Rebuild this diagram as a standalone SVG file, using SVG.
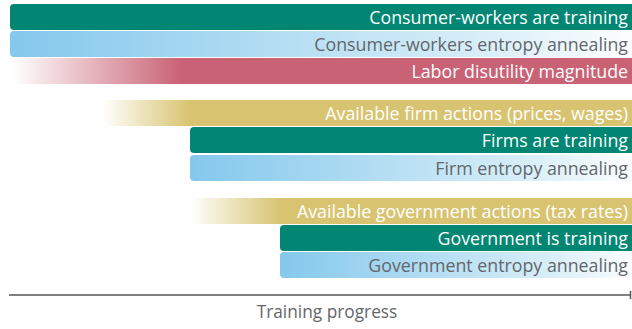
<svg xmlns="http://www.w3.org/2000/svg" width="632" height="329" viewBox="0 0 632 329">
<defs>
<linearGradient id="gBlue" x1="0" x2="1" y1="0" y2="0">
<stop offset="0" stop-color="#84c8ec"/>
<stop offset="0.75" stop-color="#d8eef8"/>
<stop offset="1" stop-color="#ffffff"/>
</linearGradient>
<linearGradient id="gRed" gradientUnits="userSpaceOnUse" x1="12" x2="182" y1="0" y2="0">
<stop offset="0" stop-color="#c96274" stop-opacity="0"/>
<stop offset="1" stop-color="#c96274" stop-opacity="1"/>
</linearGradient>
<linearGradient id="gYel1" gradientUnits="userSpaceOnUse" x1="102" x2="190" y1="0" y2="0">
<stop offset="0" stop-color="#d8c470" stop-opacity="0"/>
<stop offset="1" stop-color="#d8c470" stop-opacity="1"/>
</linearGradient>
<linearGradient id="gYel2" gradientUnits="userSpaceOnUse" x1="190" x2="280" y1="0" y2="0">
<stop offset="0" stop-color="#d8c470" stop-opacity="0"/>
<stop offset="1" stop-color="#d8c470" stop-opacity="1"/>
</linearGradient>
</defs>
<style>
.teal{fill:#008672}
.blue{fill:url(#gBlue)}
.lbl{font-family:"Open Sans","Noto Sans","Liberation Sans",sans-serif;font-size:17.8px;text-anchor:end}
.w{fill:#ffffff}
.g{fill:#63676b}
.axis{stroke:#555555;stroke-width:1.5;fill:none}
</style>
<g id="consumer-training">
<rect class="teal" x="10" y="4" width="630" height="26" rx="4"/>
<text class="lbl w" x="628" y="23.5">Consumer-workers are training</text>
</g>
<g id="consumer-entropy">
<rect class="blue" x="10" y="31" width="630" height="26" rx="4"/>
<text class="lbl g" x="628" y="50.5">Consumer-workers entropy annealing</text>
</g>
<g id="labor-disutility">
<rect fill="url(#gRed)" x="10" y="58" width="630" height="26"/>
<text class="lbl w" x="628" y="77.5">Labor disutility magnitude</text>
</g>
<g id="firm-actions">
<rect fill="url(#gYel1)" x="100" y="100" width="540" height="26"/>
<text class="lbl w" x="628" y="119.5">Available firm actions (prices, wages)</text>
</g>
<g id="firm-training">
<rect class="teal" x="190" y="127" width="450" height="26" rx="4"/>
<text class="lbl w" x="628" y="146.5">Firms are training</text>
</g>
<g id="firm-entropy">
<rect class="blue" x="190" y="155" width="450" height="26" rx="4"/>
<text class="lbl g" x="628" y="174.5">Firm entropy annealing</text>
</g>
<g id="gov-actions">
<rect fill="url(#gYel2)" x="190" y="198" width="450" height="26"/>
<text class="lbl w" x="628" y="217.5">Available government actions (tax rates)</text>
</g>
<g id="gov-training">
<rect class="teal" x="280" y="225" width="360" height="26" rx="4"/>
<text class="lbl w" x="628" y="244.5">Government is training</text>
</g>
<g id="gov-entropy">
<rect class="blue" x="280" y="252" width="360" height="26" rx="4"/>
<text class="lbl g" x="628" y="271.5">Government entropy annealing</text>
</g>
<g id="connectors">
<line class="axis" x1="9" y1="295" x2="630" y2="295"/>
<line class="axis" x1="630.5" y1="291" x2="630.5" y2="299"/>
</g>
<g id="axis-label">
<text x="327" y="318" style="font-family:'Open Sans','Noto Sans','Liberation Sans',sans-serif;font-size:17.3px;text-anchor:middle;fill:#63676b">Training progress</text>
</g>
</svg>
